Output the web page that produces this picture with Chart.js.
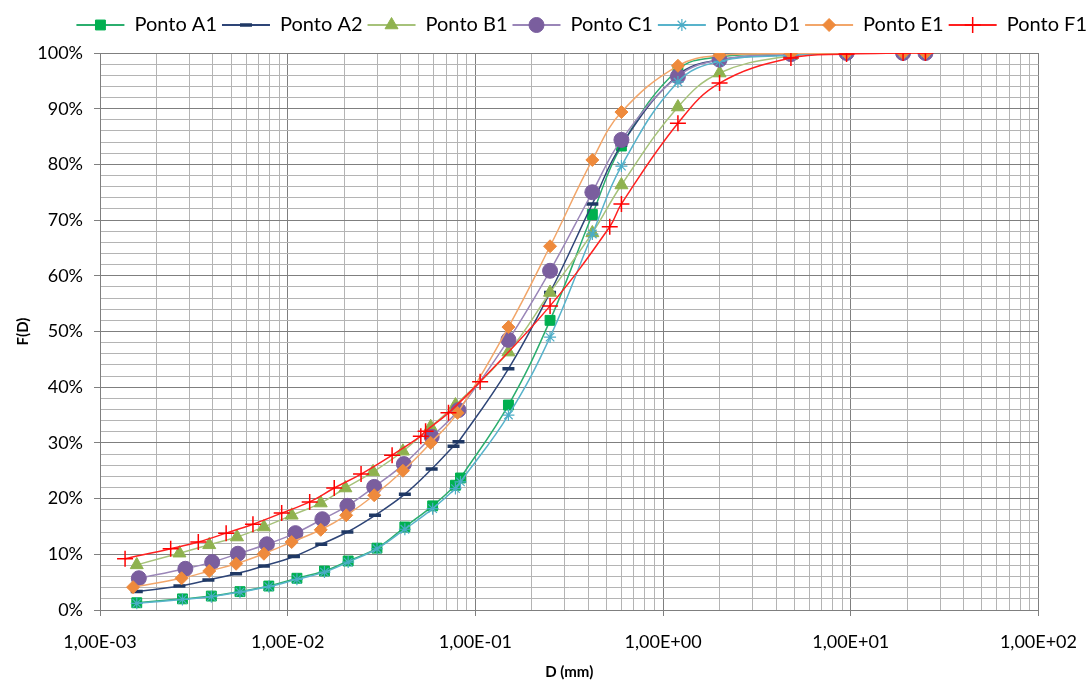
<!DOCTYPE html>
<html>
<head>
<meta charset="utf-8">
<script src="https://cdn.jsdelivr.net/npm/chart.js@4.4.1/dist/chart.umd.min.js"></script>
<style>
    html, body { margin: 0; padding: 0; background: #fff; }
</style>
</head>
<body>
<canvas id="myChart" width="1092" height="681"></canvas>
<script>
// diameters D (mm) and passing F(D) (%) per sample
const dA1 = [0.00157, 0.00275, 0.00392, 0.00557, 0.00793, 0.0112, 0.0157, 0.0210, 0.0299, 0.0421, 0.0592, 0.0783, 0.0833, 0.15, 0.25, 0.42, 0.6, 1.2, 2.0, 4.8, 9.5, 19, 25];
const fA1 = [1.3, 2.0, 2.5, 3.3, 4.3, 5.7, 7.0, 8.8, 11.1, 14.9, 18.7, 22.4, 23.7, 36.8, 52.0, 71.0, 83.3, 97.0, 99.3, 99.8, 100, 100, 100];

const dA2 = [0.00157, 0.00265, 0.00378, 0.00531, 0.00747, 0.0108, 0.0151, 0.0208, 0.0292, 0.0421, 0.0585, 0.0765, 0.0813, 0.15, 0.25, 0.42, 0.6, 1.2, 2.0, 4.8, 9.5, 19, 25];
const fA2 = [3.3, 4.3, 5.4, 6.5, 7.9, 9.6, 11.8, 14.0, 17.0, 20.8, 25.3, 29.4, 30.2, 43.3, 57.0, 72.9, 83.5, 96.0, 98.8, 99.7, 100, 100, 100];

const dB1 = [0.00157, 0.00265, 0.00382, 0.00537, 0.00747, 0.0105, 0.0150, 0.0203, 0.0285, 0.0411, 0.0578, 0.0783, 0.15, 0.25, 0.42, 0.6, 1.2, 2.0, 4.8, 9.5, 19, 25];
const fB1 = [8.1, 10.2, 11.7, 13.1, 14.9, 17.0, 19.2, 21.9, 24.8, 28.5, 32.9, 36.8, 46.3, 57.0, 67.7, 76.3, 90.3, 96.4, 99.5, 100, 100, 100];

const dC1 = [0.00161, 0.00285, 0.00396, 0.00543, 0.00775, 0.0110, 0.0153, 0.0208, 0.0289, 0.0416, 0.0585, 0.0813, 0.15, 0.25, 0.42, 0.6, 1.2, 2.0, 4.8, 9.5, 19, 25];
const fC1 = [5.7, 7.4, 8.6, 10.1, 11.8, 13.8, 16.3, 18.7, 22.1, 26.2, 31.1, 35.9, 48.5, 60.9, 75.0, 84.4, 95.8, 98.8, 99.8, 100, 100, 100];

const dD1 = [0.00157, 0.00275, 0.00392, 0.00557, 0.00793, 0.0112, 0.0157, 0.0210, 0.0299, 0.0421, 0.0592, 0.0783, 0.0833, 0.15, 0.25, 0.42, 0.6, 1.2, 2.0, 4.8, 9.5, 19, 25];
const fD1 = [1.2, 1.9, 2.4, 3.2, 4.2, 5.5, 6.8, 8.6, 11.0, 14.5, 18.2, 21.8, 23.0, 35.0, 49.0, 67.5, 79.7, 94.8, 98.5, 99.6, 100, 100, 100];

const dE1 = [0.0015, 0.00272, 0.00382, 0.00531, 0.00747, 0.0105, 0.0150, 0.0205, 0.0289, 0.0411, 0.0578, 0.0803, 0.15, 0.25, 0.42, 0.6, 1.2, 2.0, 4.8, 9.5, 19, 25];
const fE1 = [4.1, 5.7, 7.0, 8.3, 10.1, 12.2, 14.4, 17.0, 20.6, 25.0, 30.0, 35.4, 50.8, 65.3, 80.8, 89.4, 97.7, 99.6, 99.9, 100, 100, 100];

const dF1 = [0.00136, 0.00238, 0.00334, 0.00470, 0.00653, 0.00929, 0.0131, 0.0177, 0.0246, 0.0360, 0.0512, 0.0543, 0.0719, 0.106, 0.25, 0.52, 0.6, 1.2, 2.0, 4.8, 9.5, 19, 25];
const fF1 = [9.2, 11.0, 12.2, 13.8, 15.4, 17.4, 19.4, 21.9, 24.4, 27.8, 31.2, 32.1, 35.4, 41.0, 54.6, 68.8, 72.9, 87.4, 94.6, 99.1, 99.8, 100, 100];

const names = ['Ponto A1', 'Ponto A2', 'Ponto B1', 'Ponto C1', 'Ponto D1', 'Ponto E1', 'Ponto F1'];
const xDecades = [-3, -2, -1, 0, 1, 2];

function pts(d, f) {
    return d.map((x, i) => ({ x: x, y: f[i] }));
}

function isDecade(v) {
    let l = Math.log10(v);
    return Math.abs(l - Math.round(l)) < 1e-9;
}

function sci(v) {
    let e = Math.round(Math.log10(v));
    return '1,00E' + (e < 0 ? '-' : '+') + String(Math.abs(e)).padStart(2, '0');
}

function serie(i, d, f, line, mark, style, radius, bw) {
    return {
        label: names[i],
        data: pts(d, f),
        order: 6 - i,
        borderColor: line,
        backgroundColor: line,
        borderWidth: 1.5,
        tension: 0.4,
        fill: false,
        pointStyle: style,
        pointRadius: radius,
        pointHoverRadius: radius,
        pointBackgroundColor: mark,
        pointBorderColor: mark,
        pointBorderWidth: bw
    };
}

const datasets = [
    serie(0, dA1, fA1, '#2BAE6E', '#00B050', 'rect', 7, 1),
    serie(1, dA2, fA2, '#2E4577', '#1F3864', 'line', 6, 3.5),
    serie(2, dB1, fB1, '#A6C27A', '#8FB24F', 'triangle', 7.5, 1),
    serie(3, dC1, fC1, '#9A86B8', '#7A5E9E', 'circle', 7.5, 1),
    serie(4, dD1, fD1, '#58B3CB', '#4BACC6', 'star', 6, 1.2),
    serie(5, dE1, fE1, '#F2A66A', '#EE8A3C', 'rectRot', 6.5, 1),
    serie(6, dF1, fF1, '#FF2020', '#FF0000', 'cross', 8, 1.5)
];

const legendFont = 20;
const legendPad = 5;

// legend: extra height below it, pushed to the right edge, markers over the line
const legendMarkers = {
    id: 'legendMarkers',
    beforeInit(chart) {
        const fit = chart.legend.fit;
        chart.legend.fit = function () {
            fit.bind(chart.legend)();
            this.height += 8;
        };
    },
    afterUpdate(chart) {
        chart.legend.right = chart.width;
        chart.legend.adjustHitBoxes();
    },
    afterDraw(chart) {
        const legend = chart.legend;
        const ctx = chart.ctx;
        const bw = legend.options.labels.boxWidth;
        const cy = legend.top + legendPad + legendFont / 2;
        legend.legendHitBoxes.forEach((box, i) => {
            const item = legend.legendItems[i];
            const ds = chart.data.datasets[item.datasetIndex];
            ctx.save();
            ctx.fillStyle = ds.pointBackgroundColor;
            ctx.strokeStyle = ds.pointBorderColor;
            ctx.lineWidth = ds.pointBorderWidth;
            Chart.helpers.drawPoint(ctx, {
                pointStyle: ds.pointStyle,
                radius: ds.pointRadius,
                borderWidth: ds.pointBorderWidth,
                rotation: 0
            }, box.left + bw / 2, cy);
            ctx.restore();
        });
    }
};

new Chart('myChart', {
    type: 'line',
    data: { datasets: datasets },
    plugins: [legendMarkers],
    options: {
        responsive: false,
        animation: false,
        layout: { padding: { top: 10, right: 47, bottom: 0, left: 0 } },
        plugins: {
            tooltip: { enabled: false },
            legend: {
                position: 'top',
                align: 'end',
                labels: {
                    boxWidth: 48,
                    boxHeight: 2,
                    padding: legendPad,
                    color: '#000',
                    font: { family: 'Lato', size: legendFont },
                    sort: (a, b) => a.datasetIndex - b.datasetIndex,
                    generateLabels: function (chart) {
                        let items = Chart.defaults.plugins.legend.labels.generateLabels(chart);
                        items.forEach(it => { it.lineWidth = 0; });
                        return items;
                    }
                }
            }
        },
        scales: {
            x: {
                type: 'logarithmic',
                min: 0.001,
                max: 100,
                afterBuildTicks: function (scale) {
                    let ticks = [];
                    for (let e of xDecades) {
                        for (let m = 1; m <= 9; m++) {
                            if (e === 2 && m > 1) break;
                            ticks.push({ value: parseFloat((m * Math.pow(10, e)).toPrecision(6)) });
                        }
                    }
                    scale.ticks = ticks;
                },
                afterFit: function (scale) { scale.height = 71; },
                ticks: {
                    autoSkip: false,
                    maxRotation: 0,
                    minRotation: 0,
                    padding: 15,
                    color: '#000',
                    font: { family: 'Lato', size: 18 },
                    callback: function (value) { return isDecade(value) ? sci(value) : ''; }
                },
                grid: {
                    color: ctx => isDecade(ctx.tick.value) ? '#7F7F7F' : '#B4B4B4',
                    tickColor: ctx => isDecade(ctx.tick.value) ? '#7F7F7F' : 'rgba(0,0,0,0)',
                    tickLength: 6,
                    lineWidth: 1
                },
                border: { color: '#7F7F7F', width: 1 },
                title: {
                    display: true,
                    text: 'D (mm)',
                    color: '#000',
                    font: { family: 'Lato', size: 15, weight: 'bold' },
                    padding: { top: 0, bottom: 0 }
                }
            },
            y: {
                min: 0,
                max: 100,
                afterFit: function (scale) { scale.width = 100; },
                ticks: {
                    stepSize: 2,
                    autoSkip: false,
                    padding: 11,
                    color: '#000',
                    font: { family: 'Lato', size: 18 },
                    callback: function (value) { return value % 10 === 0 ? value + '%' : ''; }
                },
                grid: {
                    color: ctx => ctx.tick.value % 10 === 0 ? '#7F7F7F' : '#B4B4B4',
                    tickColor: ctx => ctx.tick.value % 10 === 0 ? '#7F7F7F' : 'rgba(0,0,0,0)',
                    tickLength: 6,
                    lineWidth: 1
                },
                border: { color: '#7F7F7F', width: 1 },
                title: {
                    display: true,
                    text: 'F(D)',
                    color: '#000',
                    font: { family: 'Lato', size: 15, weight: 'bold' },
                    padding: { top: 14, bottom: 8 }
                }
            }
        }
    }
});
</script>
</body>
</html>
